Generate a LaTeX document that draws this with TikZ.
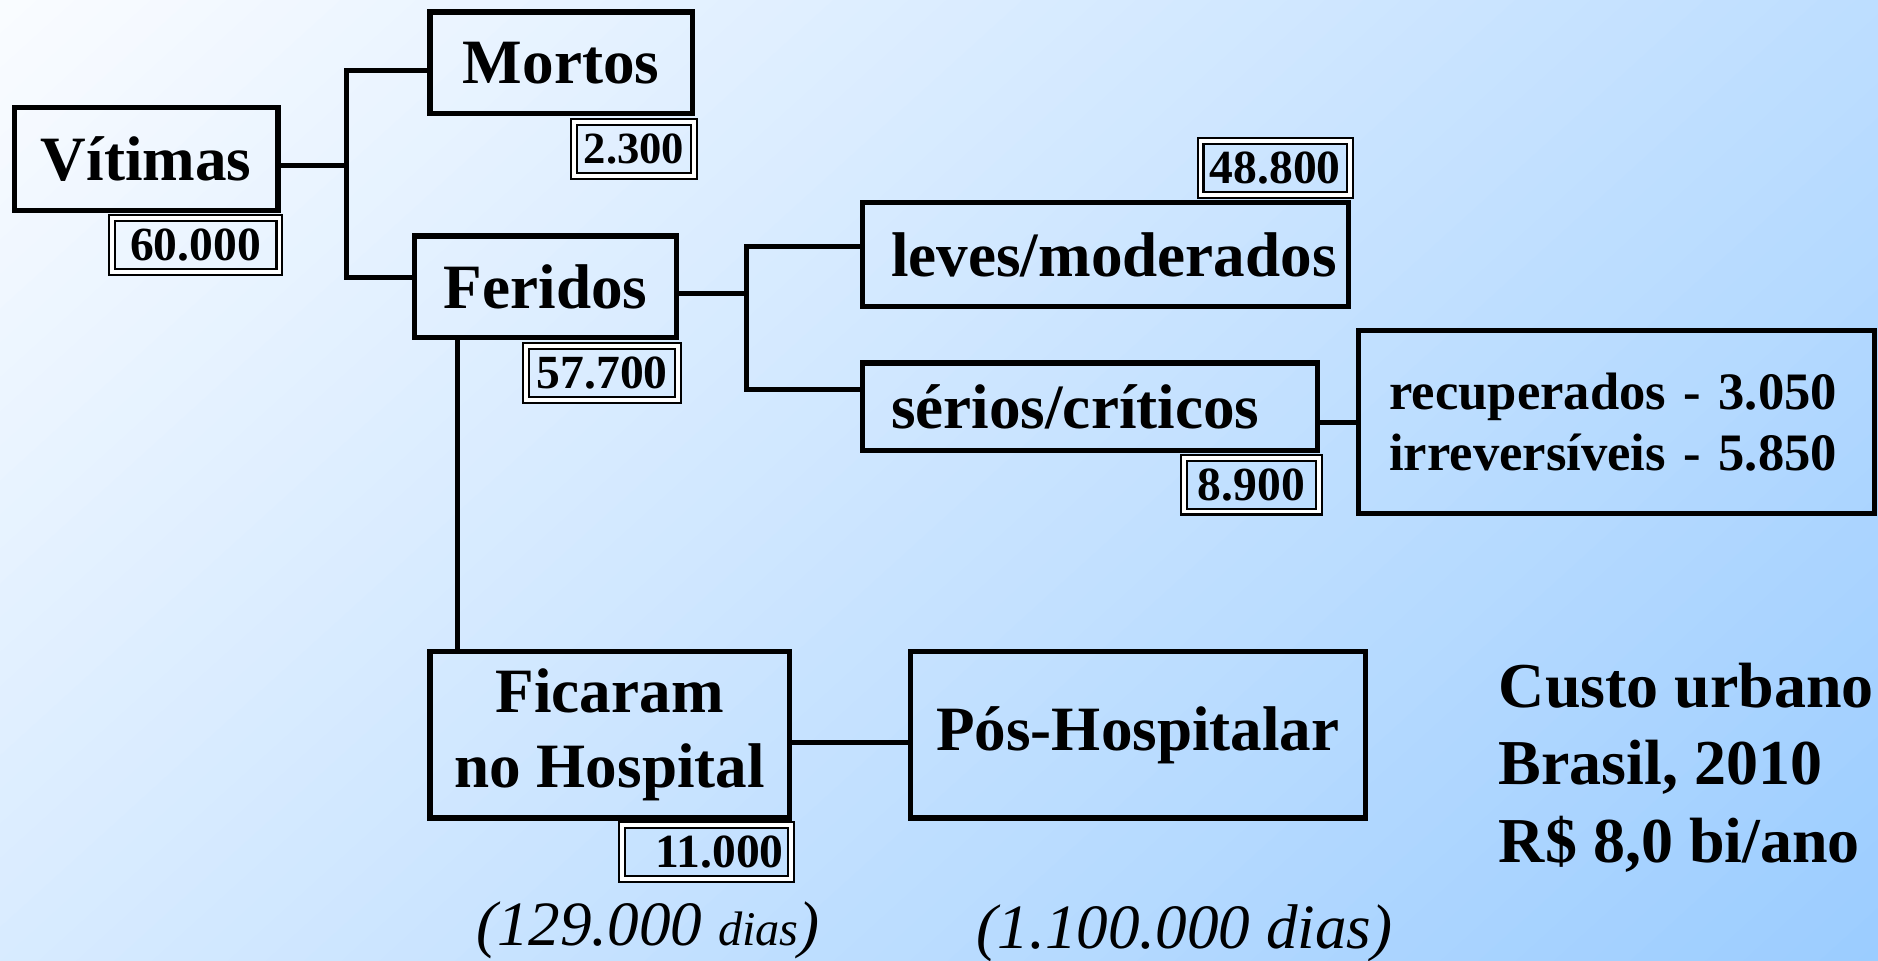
\documentclass[tikz,border=0pt]{standalone}
\usepackage{fontspec}
\setmainfont{Liberation Serif}
\usetikzlibrary{positioning}
\definecolor{bgwhite}{RGB}{250,252,255}
\definecolor{bgblue}{RGB}{152,203,255}

\tikzset{
  box/.style={draw,line width=1.25pt,inner sep=0pt,align=center,
              font=\fontsize{15}{18}\selectfont\bfseries},
  badge/.style={draw,line width=0.5pt,double=white,double distance=0.9pt,
                inner sep=0pt,minimum height=0.45cm,
                font=\fontsize{11.3}{13}\selectfont\bfseries},
  link/.style={line width=1.25pt},
  note/.style={font=\fontsize{15}{18}\selectfont\itshape},
}

\begin{document}
\begin{tikzpicture}

% background: diagonal gradient in thin bands
\useasboundingbox (0,0) rectangle (15.68,8.02);
\begin{scope}
\clip (0,0) rectangle (15.68,8.02);
\begin{scope}[rotate around={-47.8:(0,8.02)}]
\foreach \i in {0,...,79}{
  \pgfmathsetmacro{\p}{100*(\i+0.5)/80}
  \pgfmathsetmacro{\xa}{17*\i/80}
  \pgfmathsetmacro{\xb}{17*(\i+1)/80+0.02}
  \fill[bgblue!\p!bgwhite] (\xa,-12) -- (\xb,-12) -- (\xb,28) -- (\xa,28) -- cycle;
}
\end{scope}
\end{scope}

% ---------------- main boxes ----------------
\node[box,minimum width=2.20cm,minimum height=0.86cm] (vitimas) at (1.22,6.69) {Vítimas};
\node[box,minimum width=2.19cm,minimum height=0.85cm] (mortos) at (4.685,7.495) {Mortos};
\node[box,minimum width=2.19cm,minimum height=0.85cm] (feridos) at (4.555,5.625) {Feridos};
\node[box,minimum height=0.87cm,text width=3.58cm,inner xsep=0.24cm,align=left]
  (leves) at (9.23,5.895) {leves/moderados};
\node[box,minimum height=0.73cm,text width=3.32cm,inner xsep=0.24cm,align=left]
  (series) at (9.10,4.625) {sérios/críticos};
\node[box,minimum height=1.53cm,text width=3.79cm,inner xsep=0.26cm,align=left,
      font=\fontsize{12.5}{14.5}\selectfont\bfseries]
  (outcome) at (13.495,4.495) {recuperados - 3.050\\irreversíveis - 5.850};
\node[box,minimum width=3.00cm,minimum height=1.39cm] (ficaram) at (5.09,1.885)
  {Ficaram\\no Hospital};
\node[box,minimum width=3.80cm,minimum height=1.39cm] (pos) at (9.50,1.885)
  {Pós-Hospitalar};

% ---------------- counts ----------------
\node[badge,minimum width=1.40cm,below left=0.03cm and 0cm of vitimas.south east] (nvitimas) {60.000};
\node[badge,minimum width=1.00cm,below left=0.04cm and 0cm of mortos.south east,
      font=\fontsize{10.6}{13}\selectfont\bfseries] (nmortos) {2.300};
\node[badge,minimum width=1.27cm,below left=0.04cm and 0cm of feridos.south east] (nferidos) {57.700};
\node[badge,minimum width=1.25cm,above left=0.03cm and 0cm of leves.north east] (nleves) {48.800};
\node[badge,minimum width=1.13cm,below left=0.03cm and 0cm of series.south east] (nseries) {8.900};
\node[badge,minimum width=1.41cm,text width=1.29cm,align=right,
      below left=0.03cm and 0cm of ficaram.south east] (nficaram) {11.000};

% ---------------- connectors ----------------
\coordinate (j1) at (2.89,6.64);
\coordinate (j2) at (6.23,5.57);
\draw[link] ([yshift=-0.05cm]vitimas.east) -- ([yshift=-0.05cm]vitimas.east -| j1);
\draw[link] ([yshift=-0.065cm]mortos.west) -| (j1) |- ([yshift=0.075cm]feridos.west);
\draw[link] ([yshift=-0.055cm]feridos.east) -- ([yshift=-0.055cm]feridos.east -| j2);
\draw[link] ([yshift=0.065cm]leves.west) -| (j2) |- ([yshift=0.145cm]series.west);
\draw[link] (outcome.west) -- (outcome.west -| series.east);
\coordinate (drop) at ([xshift=0.38cm]feridos.south west);
\draw[link] (drop) -- (drop |- ficaram.north);
\draw[link] ([yshift=-0.065cm]ficaram.east) -- ([yshift=-0.065cm]pos.west);

% ---------------- notes ----------------
\node[note] (dhosp) at (5.41,0.25) {(129.000 {\fontsize{11.5}{12}\selectfont dias})};
\node[note] (dpos) at (9.89,0.23) {(1.100.000 dias)};
\node[anchor=west,align=left,font=\fontsize{15.2}{18.3}\selectfont\bfseries]
  (custo) at (12.39,1.61) {Custo urbano\\Brasil, 2010\\R\$ 8,0 bi/ano};

\end{tikzpicture}
\end{document}
